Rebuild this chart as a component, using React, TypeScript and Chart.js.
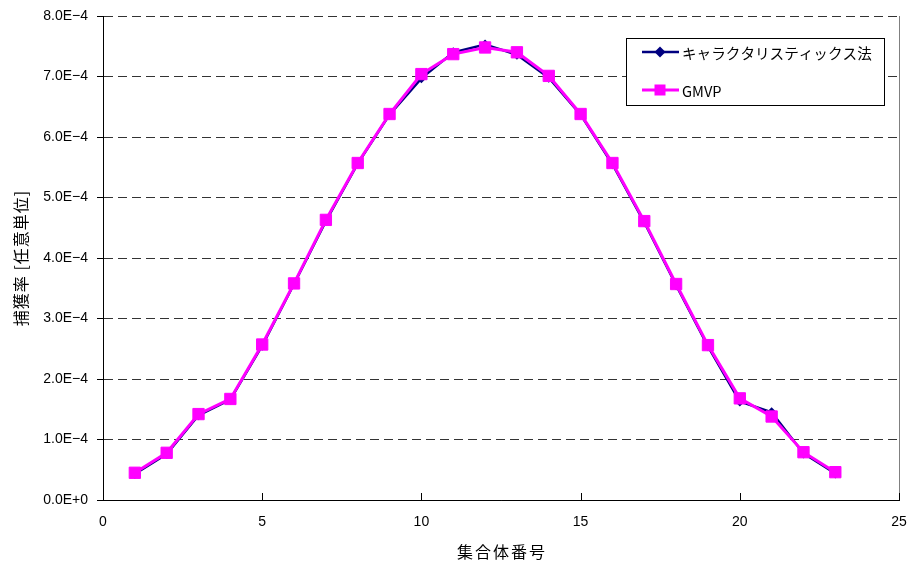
import React, { useEffect, useRef } from "react";
import { Chart, registerables } from "chart.js";

Chart.register(...registerables);

// ---- data ----
const assemblyNumbers = [1, 2, 3, 4, 5, 6, 7, 8, 9, 10, 11, 12, 13, 14, 15, 16, 17, 18, 19, 20, 21, 22, 23];
const characteristicValues = [
  0.43e-4, 0.76e-4, 1.4e-4, 1.66e-4, 2.55e-4, 3.57e-4, 4.61e-4, 5.56e-4, 6.37e-4, 6.97e-4, 7.4e-4, 7.53e-4,
  7.36e-4, 6.98e-4, 6.37e-4, 5.55e-4, 4.59e-4, 3.55e-4, 2.54e-4, 1.63e-4, 1.45e-4, 0.77e-4, 0.44e-4,
];
const gmvpValues = [
  0.45e-4, 0.78e-4, 1.42e-4, 1.67e-4, 2.57e-4, 3.58e-4, 4.63e-4, 5.57e-4, 6.38e-4, 7.04e-4, 7.37e-4, 7.48e-4,
  7.4e-4, 7.01e-4, 6.38e-4, 5.57e-4, 4.61e-4, 3.57e-4, 2.56e-4, 1.68e-4, 1.38e-4, 0.79e-4, 0.46e-4,
];
const yTickLabels = ["0.0E+0", "1.0E\u22124", "2.0E\u22124", "3.0E\u22124", "4.0E\u22124", "5.0E\u22124", "6.0E\u22124", "7.0E\u22124", "8.0E\u22124"];
const xTickValues = [0, 5, 10, 15, 20, 25];
const seriesNames = ["キャラクタリスティックス法", "GMVP"];
const xTitle = "集合体番号";
const yTitle = "捕獲率 [任意単位]";

const NAVY = "#000080";
const MAGENTA = "#FF00FF";
const CJK = "'Noto Sans CJK JP', sans-serif";
const LATIN = "'Liberation Sans', Arial, sans-serif";

const decorPlugin = {
  id: "decor",
  afterDraw(chart: any) {
    const { ctx, chartArea } = chart;
    const { left, right, top, bottom } = chartArea;
    const xs = chart.scales.x;
    ctx.save();
    // right border of plot area
    ctx.strokeStyle = "#808080";
    ctx.lineWidth = 1;
    ctx.beginPath();
    const rx = Math.round(right) + 0.5;
    ctx.moveTo(rx, top);
    ctx.lineTo(rx, bottom);
    ctx.stroke();
    // inside x ticks
    ctx.strokeStyle = "#000";
    ctx.beginPath();
    for (const v of xTickValues) {
      const px = Math.round(xs.getPixelForValue(v)) + 0.5;
      ctx.moveTo(px, bottom);
      ctx.lineTo(px, bottom - 7);
    }
    ctx.stroke();
    // axis titles
    ctx.fillStyle = "#000";
    ctx.font = `16px ${CJK}`;
    ctx.textAlign = "center";
    ctx.textBaseline = "middle";
    (ctx as any).letterSpacing = "2px";
    ctx.fillText(xTitle, (left + right) / 2 + 1, 552);
    ctx.save();
    ctx.translate(21, (top + bottom) / 2);
    ctx.rotate(-Math.PI / 2);
    ctx.font = `16px ${CJK}`;
    (ctx as any).letterSpacing = "1px";
    ctx.fillText(yTitle, 0, 0);
    ctx.restore();
    (ctx as any).letterSpacing = "0px";
    // legend
    const bx = right - 273;
    const by = top + 22;
    const bw = 258;
    const bh = 67;
    ctx.fillStyle = "#fff";
    ctx.fillRect(bx, by, bw, bh);
    ctx.strokeStyle = "#000";
    ctx.lineWidth = 1;
    ctx.strokeRect(Math.round(bx) + 0.5, Math.round(by) + 0.5, bw, bh);
    const rows = [
      { name: seriesNames[0], color: NAVY, y: by + 14, shape: "diamond" },
      { name: seriesNames[1], color: MAGENTA, y: by + 52, shape: "square" },
    ];
    for (const r of rows) {
      ctx.strokeStyle = r.color;
      ctx.lineWidth = r.shape === "square" ? 3 : 2.5;
      ctx.beginPath();
      ctx.moveTo(bx + 16, r.y);
      ctx.lineTo(bx + 53, r.y);
      ctx.stroke();
      ctx.fillStyle = r.color;
      const cx = bx + 34;
      if (r.shape === "diamond") {
        ctx.beginPath();
        ctx.moveTo(cx, r.y - 5.5);
        ctx.lineTo(cx + 5.5, r.y);
        ctx.lineTo(cx, r.y + 5.5);
        ctx.lineTo(cx - 5.5, r.y);
        ctx.closePath();
        ctx.fill();
      } else {
        ctx.fillRect(cx - 5.5, r.y - 5.5, 11, 11);
      }
      ctx.fillStyle = "#000";
      ctx.textAlign = "left";
      ctx.textBaseline = "middle";
      ctx.font = `14.6px ${CJK}`;
      ctx.fillText(r.name, bx + 56, r.y + 1);
    }
    ctx.restore();
  },
};

export default function App() {
  const canvasRef = useRef<HTMLCanvasElement | null>(null);

  useEffect(() => {
    document.body.style.margin = "0";
    const canvas = canvasRef.current;
    if (!canvas) return;
    const chart = new Chart(canvas, {
      type: "line",
      data: {
        datasets: [
          {
            label: seriesNames[0],
            data: assemblyNumbers.map((x, i) => ({ x, y: characteristicValues[i] })),
            borderColor: NAVY,
            backgroundColor: NAVY,
            borderWidth: 2.5,
            pointStyle: "rectRot",
            pointRadius: 5,
            pointBorderWidth: 0,
            pointBackgroundColor: NAVY,
            order: 2,
          },
          {
            label: seriesNames[1],
            data: assemblyNumbers.map((x, i) => ({ x, y: gmvpValues[i] })),
            borderColor: MAGENTA,
            backgroundColor: MAGENTA,
            borderWidth: 3,
            pointStyle: "rect",
            pointRadius: 8,
            pointBorderWidth: 1,
            pointBorderColor: MAGENTA,
            pointBackgroundColor: MAGENTA,
            order: 1,
          },
        ],
      },
      options: {
        animation: false,
        responsive: false,
        devicePixelRatio: 1,
        layout: { padding: { top: 16, right: 8, left: 0, bottom: 0 } },
        plugins: { legend: { display: false }, tooltip: { enabled: false } },
        scales: {
          x: {
            type: "linear",
            min: 0,
            max: 25,
            afterFit: (s: any) => {
              s.height = 63;
              s.paddingLeft = 0;
              s.paddingRight = 0;
            },
            afterBuildTicks: (s: any) => {
              s.ticks = xTickValues.map((v) => ({ value: v }));
            },
            ticks: {
              color: "#000",
              font: { family: LATIN, size: 14 },
              padding: 14,
              maxRotation: 0,
              callback: (v: any) => String(v),
            },
            grid: { display: true, drawOnChartArea: false, drawTicks: false },
            border: { display: true, color: "#000", width: 1 },
          },
          y: {
            type: "linear",
            min: 0,
            max: 8e-4,
            afterFit: (s: any) => {
              s.width = 103;
              s.paddingTop = 0;
              s.paddingBottom = 0;
            },
            afterBuildTicks: (s: any) => {
              s.ticks = yTickLabels.map((_, i) => ({ value: i * 1e-4 }));
            },
            ticks: {
              color: "#000",
              font: { family: LATIN, size: 14 },
              padding: 9,
              callback: (_v: any, i: number) => yTickLabels[i],
            },
            grid: {
              color: "#333",
              lineWidth: 1,
              drawTicks: true,
              tickLength: 6,
              tickColor: "#000",
            },
            border: { display: true, color: "#000", width: 1, dash: [9, 5] },
          },
        },
      },
      plugins: [decorPlugin],
    } as any);
    return () => chart.destroy();
  }, []);

  return (
    <div style={{ width: 908, height: 563, background: "#fff" }}>
      <canvas ref={canvasRef} width={908} height={563} style={{ display: "block" }} />
    </div>
  );
}
